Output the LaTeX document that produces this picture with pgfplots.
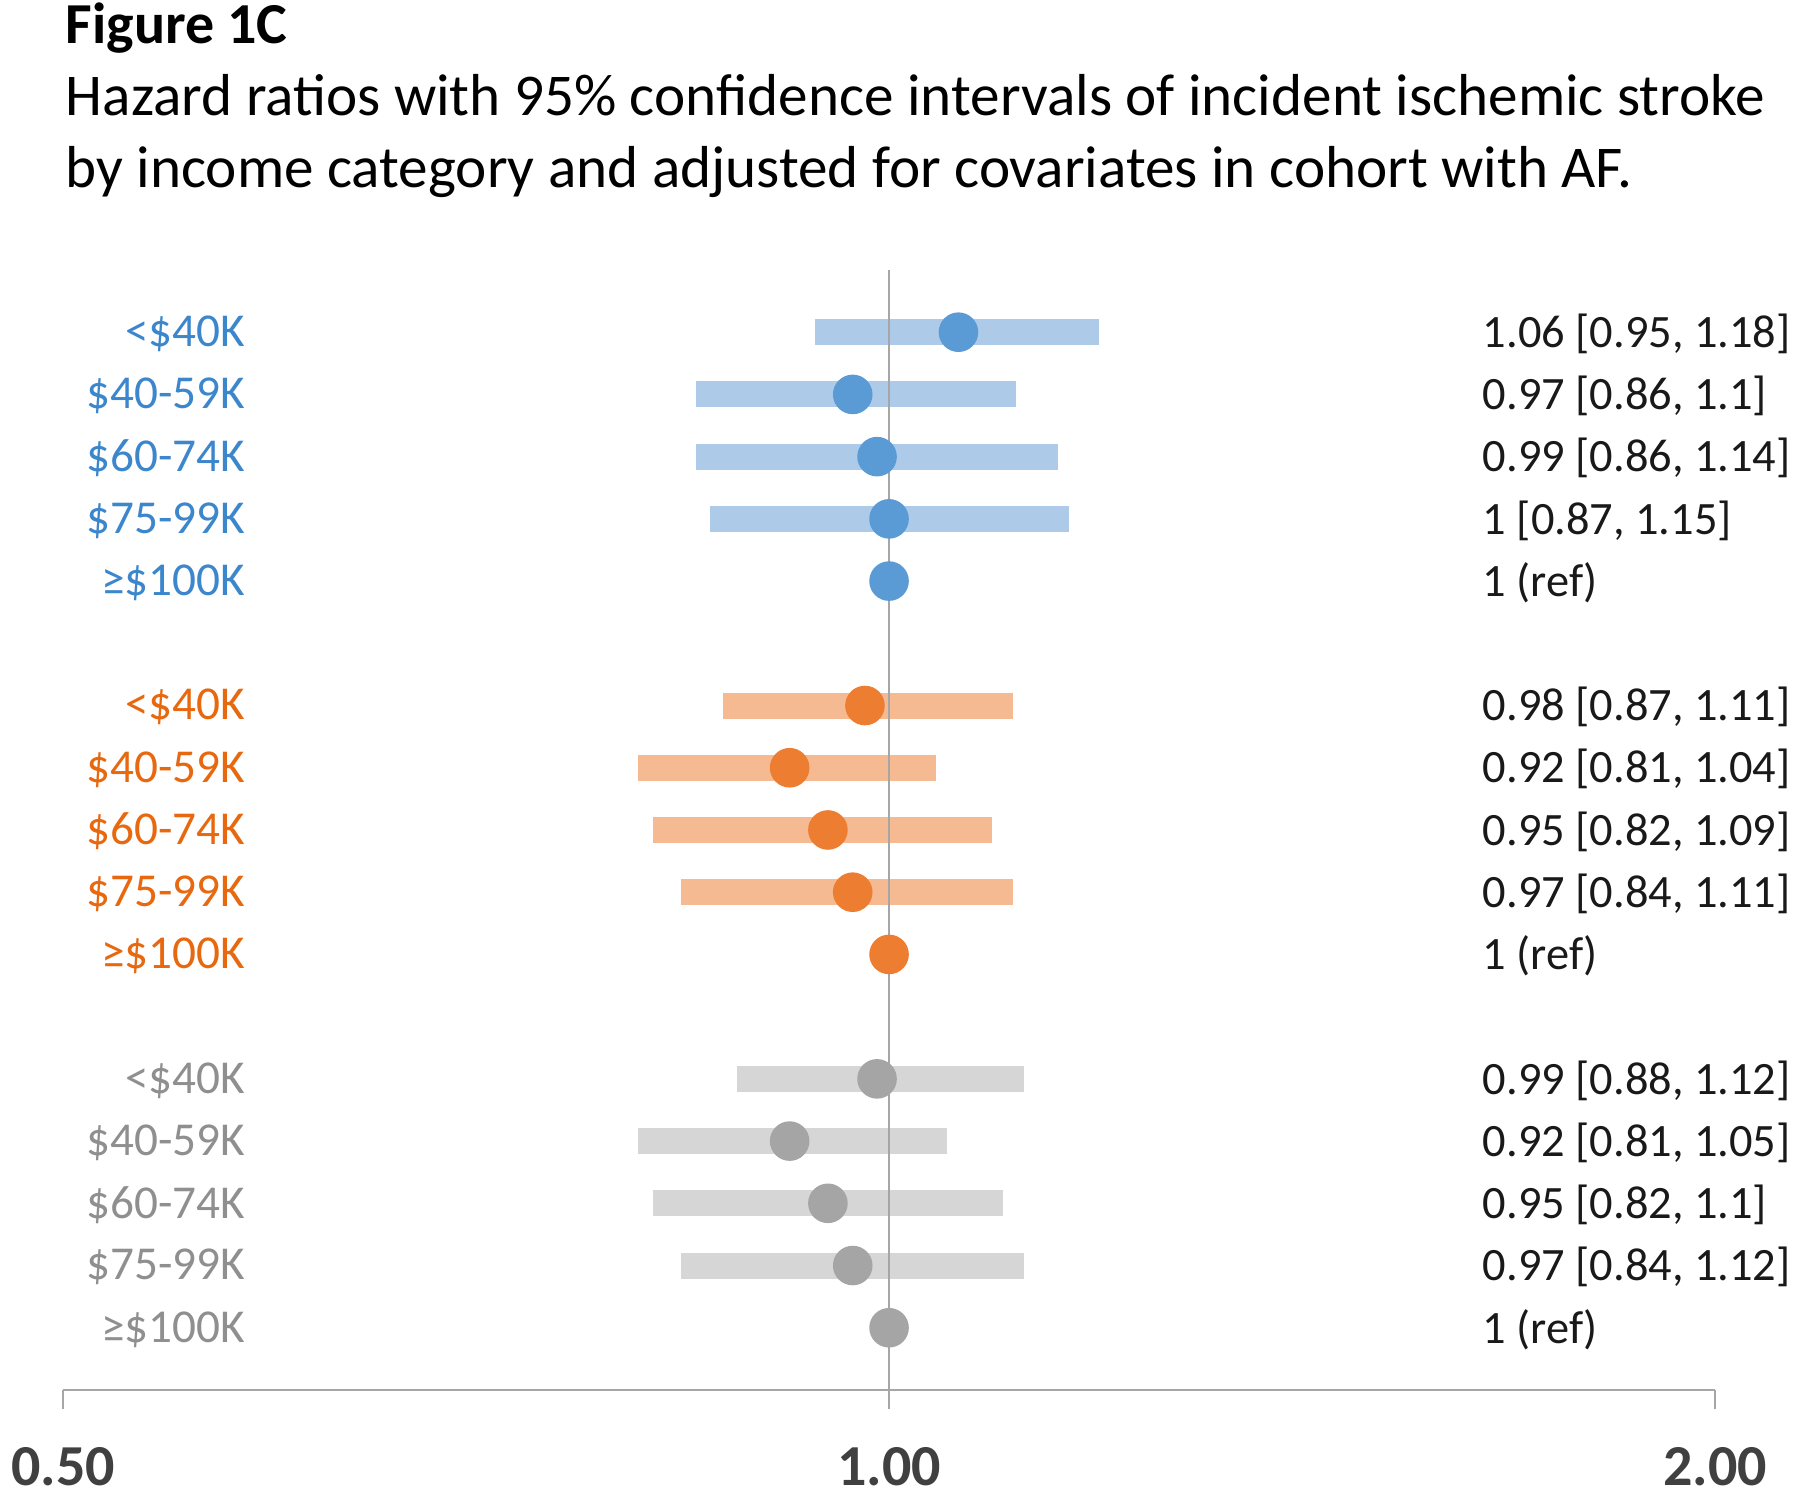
\documentclass[border=0pt]{standalone}
\usepackage{pgfplots}
\pgfplotsset{compat=1.18}
\usepackage{fontspec}
\setmainfont{Carlito}
\definecolor{bluemk}{HTML}{5B9BD5}
\definecolor{bluebar}{HTML}{ADCBE9}
\definecolor{bluetxt}{HTML}{3C86CC}
\definecolor{orgmk}{HTML}{ED7D31}
\definecolor{orgbar}{HTML}{F5BA91}
\definecolor{orgtxt}{HTML}{E8680F}
\definecolor{grymk}{HTML}{A5A5A5}
\definecolor{grybar}{HTML}{D6D6D6}
\definecolor{grytxt}{HTML}{8F8F8F}
\definecolor{axgray}{HTML}{A6A6A6}
\definecolor{ticklab}{HTML}{404040}
\begin{document}
\begin{tikzpicture}
\useasboundingbox (-15.75pt,-26pt) rectangle (434.25pt,347.5pt);
\begin{axis}[
  scale only axis, width=413pt, height=280pt,
  xmode=log, log basis x=2,
  xmin=0.5, xmax=2, ymin=0, ymax=18,
  axis x line=bottom, axis y line=none,
  axis line style={axgray, line width=0.6pt, -},
  xtick={0.5,1,2}, xticklabels={0.50,1.00,2.00},
  tick align=outside, major tick length=4.75pt,
  tick style={axgray, line width=0.6pt},
  xticklabel style={font=\bfseries\fontsize{14.5}{16}\selectfont, text=ticklab, yshift=-6pt},
  /pgf/number format/assume math mode=true,
  clip=false,
  bar/.style={line width=6.5pt, line cap=butt},
  rbar/.style={line width=6.5pt, line cap=rect},
]
% CI bars: blue
\addplot[rbar, bluebar] coordinates {(0.95,17) (1.18,17)};
\addplot[rbar, bluebar] coordinates {(0.86,16) (1.10,16)};
\addplot[rbar, bluebar] coordinates {(0.86,15) (1.14,15)};
\addplot[rbar, bluebar] coordinates {(0.87,14) (1.15,14)};
% orange
\addplot[bar, orgbar] coordinates {(0.87,11) (1.11,11)};
\addplot[bar, orgbar] coordinates {(0.81,10) (1.04,10)};
\addplot[bar, orgbar] coordinates {(0.82,9) (1.09,9)};
\addplot[bar, orgbar] coordinates {(0.84,8) (1.11,8)};
% gray
\addplot[bar, grybar] coordinates {(0.88,5) (1.12,5)};
\addplot[bar, grybar] coordinates {(0.81,4) (1.05,4)};
\addplot[bar, grybar] coordinates {(0.82,3) (1.10,3)};
\addplot[bar, grybar] coordinates {(0.84,2) (1.12,2)};
% reference line
\addplot[axgray, line width=0.7pt] coordinates {(1,0) (1,18)};
% points
\addplot[only marks, mark=*, mark size=4.75pt, color=bluemk] coordinates {(1.06,17) (0.97,16) (0.99,15) (1,14) (1,13)};
\addplot[only marks, mark=*, mark size=4.75pt, color=orgmk] coordinates {(0.98,11) (0.92,10) (0.95,9) (0.97,8) (1,7)};
\addplot[only marks, mark=*, mark size=4.75pt, color=grymk] coordinates {(0.99,5) (0.92,4) (0.95,3) (0.97,2) (1,1)};
% title
\node[anchor=base west, inner sep=0pt, font=\bfseries\fontsize{14.5}{17}\selectfont] at (axis cs:0.5,18) [xshift=0.5pt, yshift=56.5pt] {Figure 1C};
\node[anchor=base west, inner sep=0pt, font=\fontsize{14.8}{17}\selectfont] at (axis cs:0.5,18) [xshift=0.5pt, yshift=38.5pt] {Hazard ratios with 95\% confidence intervals of incident ischemic stroke};
\node[anchor=base west, inner sep=0pt, font=\fontsize{14.8}{17}\selectfont] at (axis cs:0.5,18) [xshift=0.5pt, yshift=20.5pt] {by income category and adjusted for covariates in cohort with AF.};
% left labels
\begin{scope}[every node/.style={anchor=east, inner sep=0pt, xshift=45.75pt, yshift=-0.4pt, font=\fontsize{11.8}{14}\selectfont}]
\node[text=bluetxt] at (axis cs:0.5,17) {<\$40K};
\node[text=bluetxt] at (axis cs:0.5,16) {\$40-59K};
\node[text=bluetxt] at (axis cs:0.5,15) {\$60-74K};
\node[text=bluetxt] at (axis cs:0.5,14) {\$75-99K};
\node[text=bluetxt] at (axis cs:0.5,13) {≥\$100K};
\node[text=orgtxt] at (axis cs:0.5,11) {<\$40K};
\node[text=orgtxt] at (axis cs:0.5,10) {\$40-59K};
\node[text=orgtxt] at (axis cs:0.5,9) {\$60-74K};
\node[text=orgtxt] at (axis cs:0.5,8) {\$75-99K};
\node[text=orgtxt] at (axis cs:0.5,7) {≥\$100K};
\node[text=grytxt] at (axis cs:0.5,5) {<\$40K};
\node[text=grytxt] at (axis cs:0.5,4) {\$40-59K};
\node[text=grytxt] at (axis cs:0.5,3) {\$60-74K};
\node[text=grytxt] at (axis cs:0.5,2) {\$75-99K};
\node[text=grytxt] at (axis cs:0.5,1) {≥\$100K};
\end{scope}
% right labels
\begin{scope}[every node/.style={anchor=west, inner sep=0pt, xshift=-58.25pt, yshift=-0.4pt, font=\fontsize{11.6}{14}\selectfont, text=black!90}]
\node at (axis cs:2,17) {1.06 [0.95, 1.18]};
\node at (axis cs:2,16) {0.97 [0.86, 1.1]};
\node at (axis cs:2,15) {0.99 [0.86, 1.14]};
\node at (axis cs:2,14) {1 [0.87, 1.15]};
\node at (axis cs:2,13) {1 (ref)};
\node at (axis cs:2,11) {0.98 [0.87, 1.11]};
\node at (axis cs:2,10) {0.92 [0.81, 1.04]};
\node at (axis cs:2,9) {0.95 [0.82, 1.09]};
\node at (axis cs:2,8) {0.97 [0.84, 1.11]};
\node at (axis cs:2,7) {1 (ref)};
\node at (axis cs:2,5) {0.99 [0.88, 1.12]};
\node at (axis cs:2,4) {0.92 [0.81, 1.05]};
\node at (axis cs:2,3) {0.95 [0.82, 1.1]};
\node at (axis cs:2,2) {0.97 [0.84, 1.12]};
\node at (axis cs:2,1) {1 (ref)};
\end{scope}
\end{axis}
\end{tikzpicture}
\end{document}
